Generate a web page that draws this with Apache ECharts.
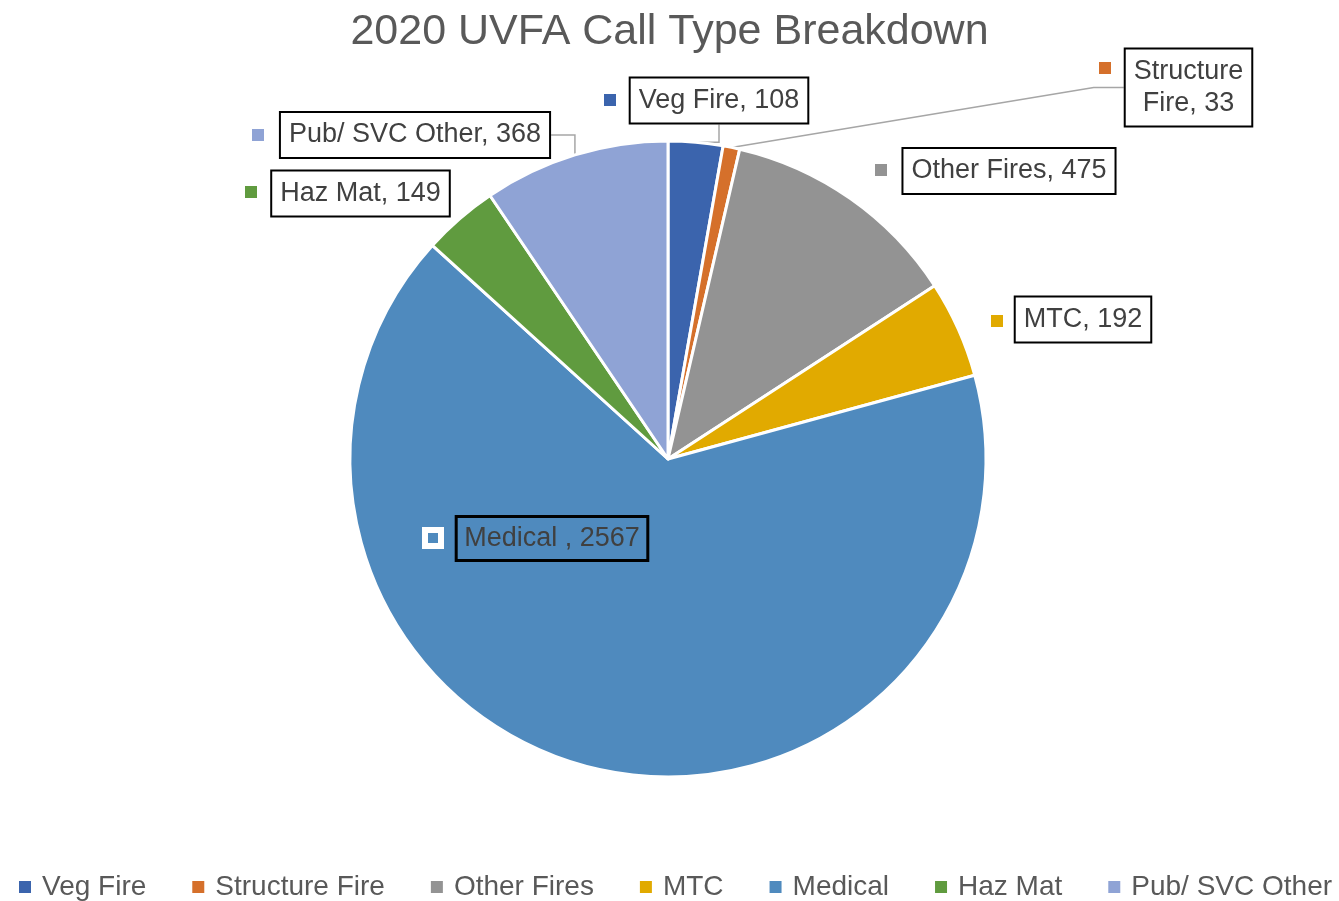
<!DOCTYPE html>
<html><head><meta charset="utf-8">
<script src="https://cdn.jsdelivr.net/npm/echarts@6/dist/echarts.min.js"></script>
<style>html,body{margin:0;padding:0;background:#fff}#c{width:1339px;height:901px}</style>
</head><body><div id="c"></div>
<script>
const categories = ['Veg Fire','Structure Fire','Other Fires','MTC','Medical','Haz Mat','Pub/ SVC Other'];
const values = [108, 33, 475, 192, 2567, 149, 368];
const labelNames = ['Veg Fire','Structure\nFire','Other Fires','MTC','Medical ','Haz Mat','Pub/ SVC Other'];
const colors = ['#3B64AD','#D5702B','#939393','#E1AA00','#4F8ABE','#609B3F','#8FA3D5'];
const labelPos = [[719,100.5],[1188.5,87.5],[1009,171],[1083,319.5],[552,538.5],[360.5,193.5],[415,135]];
const markerPos = [[610,100],[1105,68],[881,170],[997,321],[433,538],[251,192],[258,135]];
const showLine = [true,true,false,false,false,false,true];

const FONT = '"Liberation Sans", Arial, sans-serif';
const chart = echarts.init(document.getElementById('c'));

const mainData = categories.map((n,i)=>({
  name:n, value:values[i],
  itemStyle:{color:colors[i]},
  label: i===4 ? {backgroundColor:'transparent', borderWidth:1.5} : {backgroundColor:'#fff'},
  labelLine:{show:showLine[i]}
}));
const markerData = categories.map((n,i)=>({
  name:n, value:values[i],
  label:{rich:{m: i===4 ? {width:16,height:16,backgroundColor:'transparent',borderColor:'#fff',borderWidth:3}
                        : {width:12,height:12,backgroundColor:colors[i]}}}
}));

chart.setOption({
  animation:false,
  title:{text:'2020 UVFA Call Type Breakdown', left:'center', top:6,
    textStyle:{fontFamily:FONT, fontSize:43, fontWeight:'normal', color:'#595959'}},
  legend:{top:868, left:19, width:1320, padding:[5,0,5,0], icon:'rect', itemWidth:12, itemHeight:12, itemGap:46,
    data:categories,
    itemStyle:{borderWidth:0},
    textStyle:{fontFamily:FONT, fontSize:28, color:'#595959', padding:[0,0,0,6]}},
  series:[
    {type:'pie', center:[668,459], radius:318, startAngle:90, clockwise:true,
     data:mainData,
     itemStyle:{borderColor:'#fff', borderWidth:3},
     label:{show:true, position:'outside', fontFamily:FONT, fontSize:27, lineHeight:32, color:'#404040',
       align:'center',
       borderColor:'#000', borderWidth:2, padding:[6,8,6,8],
       formatter:p=>labelNames[p.dataIndex]+', '+p.value},
     labelLine:{lineStyle:{color:'#A6A6A6', width:1.5}},
     labelLayout:p=>({x:labelPos[p.dataIndex][0], y:labelPos[p.dataIndex][1], align:'center', verticalAlign:'middle'}),
     emphasis:{disabled:true}
    },
    {type:'pie', center:[668,459], radius:318, startAngle:90, clockwise:true, silent:true,
     data:markerData,
     itemStyle:{color:'rgba(0,0,0,0)'},
     label:{show:true, position:'outside', formatter:'{m|}'},
     labelLine:{show:false},
     labelLayout:p=>({x:markerPos[p.dataIndex][0], y:markerPos[p.dataIndex][1], align:'center', verticalAlign:'middle'}),
     emphasis:{disabled:true}
    }
  ]
});
</script></body></html>
